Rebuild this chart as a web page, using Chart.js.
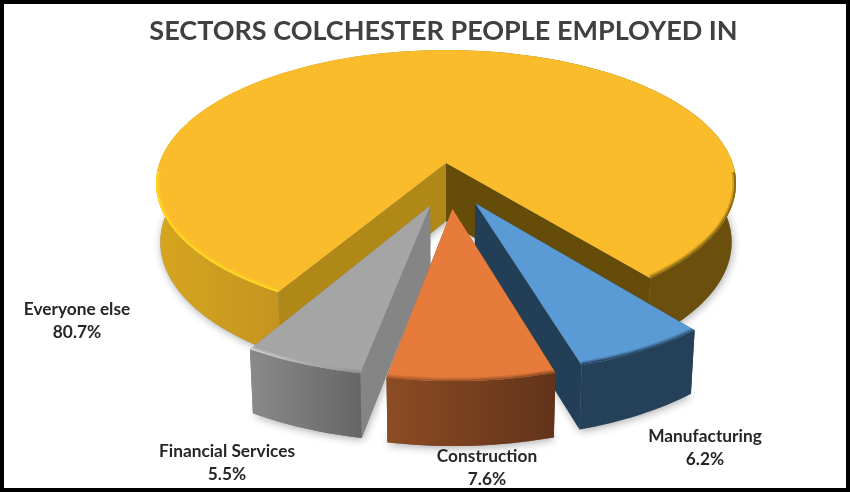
<!DOCTYPE html>
<html>
<head>
<meta charset="utf-8">
<title>Sectors Colchester people employed in</title>
<script src="https://cdn.jsdelivr.net/npm/chart.js@4"></script>
<style>
    html, body { margin: 0; padding: 0; background: #fff; }
    #wrap { position: relative; width: 850px; height: 492px; overflow: hidden; }
    #frame { position: absolute; inset: 0; border: 4px solid #000; pointer-events: none; }
</style>
</head>
<body>
<div id="wrap">
    <canvas id="chart" width="850" height="492"></canvas>
    <div id="frame"></div>
</div>
<script>
// Data
const categories = ['Manufacturing', 'Construction', 'Financial Services', 'Everyone else'];
const shares = [6.2, 7.6, 5.5, 80.7];

// Slice styling, same order as categories
const topColors = ['#5B9BD5', '#E67B3C', '#A5A5A5', '#FABC2A'];
const explode = [32, 32, 32, 0];
const startFaceColors = ['#233F58', '#6E3A1C', '#858585', '#B08818'];
const endFaceColors = ['#233F58', '#6E3A1C', '#858585', '#664C09'];
const wallStops = [
    [[0, '#25415A'], [1, '#25415A']],
    [[0, '#8C4C23'], [1, '#62331A']],
    [[0, '#8A8A8A'], [1, '#666666']],
    [[0, '#D6A61F'], [0.21, '#C49420'], [0.85, '#6A500C'], [1, '#6A500C']]
];
const bevelStops = [
    [[0, '#1F3A55'], [1, '#2F5270']],
    [[0, '#A9592A'], [1, '#8A4A22']],
    [[0, '#D8D8D8'], [1, '#8A8A8A']],
    [[0, '#FFDC20'], [0.22, '#FFD820'], [0.6, '#A07A10'], [1, '#7A5C0D']]
];
const drawOrder = [3, 0, 2, 1];

// Label centres (first text line), same order as categories
const labelSpots = [[705, 436], [487, 456], [227, 451], [77, 309]];

// Fake 3D view: perspective squash of the flat pie
const view = { shiftX: 2.5, scaleX: 286.6, scaleY: 130.3, persp: 0.153, depth: 58, converge: 0.015, sideSqueeze: 0.55, drift: 0.036 };

function project(arc, X, Y) {
    const w = 1 - view.persp * Y;
    return { x: arc.x + view.shiftX + view.scaleX * X / w, y: arc.y + view.scaleY * Y / w, w: w };
}

function dropDown(arc, p) {
    const cx = arc.x + view.shiftX;
    return { x: cx + (p.x - cx) * (1 - view.converge), y: p.y + view.depth / Math.sqrt(p.w), w: p.w };
}

function sliceGeometry(arc) {
    const mid = (arc.startAngle + arc.endAngle) / 2;
    const off = arc.options.offset / arc.outerRadius;
    const ox = off * (Math.cos(mid) * view.sideSqueeze + view.drift);
    const oy = off * Math.sin(mid);
    const steps = Math.max(8, Math.round((arc.endAngle - arc.startAngle) * 40));
    const rim = [];
    const angles = [];
    for (let i = 0; i <= steps; i++) {
        const a = arc.startAngle + (arc.endAngle - arc.startAngle) * i / steps;
        rim.push(project(arc, ox + Math.cos(a), oy + Math.sin(a)));
        angles.push(a);
    }
    const apex = project(arc, ox, oy);
    return { apex, rim, angles, apexLow: dropDown(arc, apex), rimLow: rim.map(p => dropDown(arc, p)) };
}

function tracePoly(ctx, points) {
    ctx.beginPath();
    points.forEach((p, i) => (i ? ctx.lineTo(p.x, p.y) : ctx.moveTo(p.x, p.y)));
    ctx.closePath();
}

function xGradient(ctx, points, stops) {
    const xs = points.map(p => p.x);
    const g = ctx.createLinearGradient(Math.min(...xs), 0, Math.max(...xs), 0);
    stops.forEach(s => g.addColorStop(s[0], s[1]));
    return g;
}

const pie3d = {
    id: 'pie3d',
    beforeDatasetsDraw(chart) {
        const ctx = chart.ctx;
        const arcs = chart.getDatasetMeta(0).data;
        const shapes = arcs.map(sliceGeometry);

        // soft shadows under the bottoms first
        ctx.save();
        ctx.shadowColor = 'rgba(0,0,0,0.32)';
        ctx.shadowBlur = 9;
        ctx.shadowOffsetY = 2;
        ctx.shadowOffsetX = 1;
        ctx.fillStyle = '#888';
        shapes.forEach(s => {
            tracePoly(ctx, [s.apexLow].concat(s.rimLow));
            ctx.fill();
        });
        ctx.restore();

        drawOrder.forEach(i => {
            const s = shapes[i];
            const first = s.rim[0], last = s.rim[s.rim.length - 1];
            const firstLow = s.rimLow[0], lastLow = s.rimLow[s.rimLow.length - 1];

            // cut faces
            tracePoly(ctx, [s.apex, first, firstLow, s.apexLow]);
            ctx.fillStyle = startFaceColors[i];
            ctx.fill();
            tracePoly(ctx, [s.apex, last, lastLow, s.apexLow]);
            ctx.fillStyle = endFaceColors[i];
            ctx.fill();

            // outer wall
            tracePoly(ctx, s.rim.concat(s.rimLow.slice().reverse()));
            ctx.fillStyle = xGradient(ctx, s.rim, wallStops[i]);
            ctx.fill();

            // top
            tracePoly(ctx, [s.apex].concat(s.rim));
            ctx.fillStyle = arcs[i].options.backgroundColor;
            ctx.fill();

            // bevel along the front of the rim
            ctx.save();
            tracePoly(ctx, [s.apex].concat(s.rim));
            ctx.clip();
            ctx.lineJoin = 'round';
            ctx.strokeStyle = xGradient(ctx, s.rim, bevelStops[i]);
            [[7, 0.35], [3.5, 0.8]].forEach(b => {
                ctx.globalAlpha = b[1];
                ctx.lineWidth = b[0];
                ctx.beginPath();
                let pen = false;
                s.rim.forEach((p, j) => {
                    if (Math.sin(s.angles[j]) > 0.05) {
                        if (pen) ctx.lineTo(p.x, p.y); else ctx.moveTo(p.x, p.y);
                        pen = true;
                    } else {
                        pen = false;
                    }
                });
                ctx.stroke();
            });
            ctx.restore();
        });
        return false; // flat arcs are replaced by the 3D faces above
    },
    afterDraw(chart) {
        const ctx = chart.ctx;
        ctx.save();
        ctx.font = 'bold 17.3px Lato';
        ctx.fillStyle = '#262626';
        ctx.textAlign = 'center';
        ctx.textBaseline = 'middle';
        categories.forEach((name, i) => {
            const spot = labelSpots[i];
            ctx.fillText(name, spot[0], spot[1]);
            ctx.fillText(shares[i].toFixed(1) + '%', spot[0], spot[1] + 23);
        });
        ctx.restore();
    }
};

new Chart(document.getElementById('chart'), {
    type: 'pie',
    data: {
        labels: categories,
        datasets: [{
            data: shares,
            backgroundColor: topColors,
            offset: explode,
            borderWidth: 0
        }]
    },
    options: {
        responsive: false,
        animation: false,
        rotation: 141.1,
        layout: { padding: { left: 37, right: 0, top: 0, bottom: 216.8 } },
        plugins: {
            legend: { display: false },
            tooltip: { enabled: false },
            title: {
                display: true,
                text: 'SECTORS COLCHESTER PEOPLE EMPLOYED IN',
                color: '#404040',
                font: { family: 'Lato', size: 27, weight: 'bold' },
                padding: { top: 15.5, bottom: 3 }
            }
        }
    },
    plugins: [pie3d]
});
</script>
</body>
</html>
